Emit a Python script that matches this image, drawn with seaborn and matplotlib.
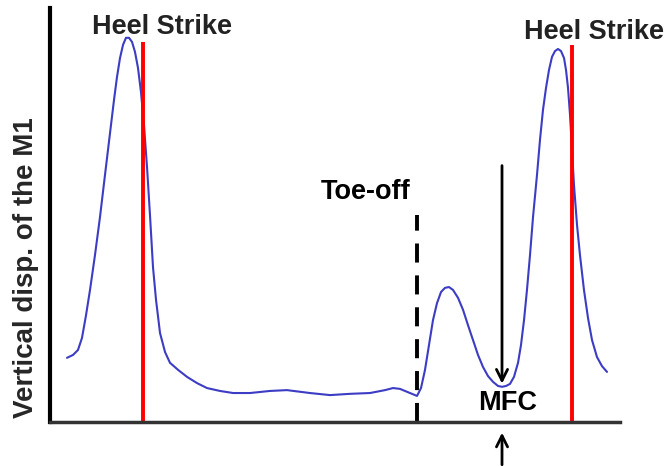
import matplotlib
matplotlib.use("Agg")
import matplotlib.pyplot as plt
import seaborn as sns
import pandas as pd

# Gait cycle (arbitrary units) and vertical displacement of M1 marker
gait = [2.98, 4.04, 4.91, 5.61, 6.32, 7.02, 7.89, 8.77, 9.65, 10.53, 11.23, 11.75,
        12.28, 12.81, 13.33, 13.86, 14.39, 14.91, 15.44, 15.96, 16.49, 17.02, 17.54,
        18.07, 18.60, 19.30, 20.18, 21.05, 22.46, 24.04, 25.79, 27.54, 29.82, 32.11,
        35.09, 38.6, 41.58, 45.6, 49.12, 52.6, 56.14, 58.77, 60.18, 61.4, 62.8,
        64.39, 65.09, 65.79, 66.49, 67.19, 67.89, 68.6, 69.3, 70.0, 70.7, 71.58,
        72.46, 73.33, 74.21, 75.09, 75.96, 76.84, 77.72, 78.6, 79.3, 80.0, 80.7,
        81.4, 82.11, 82.63, 83.16, 83.68, 84.21, 84.74, 85.44, 85.96, 86.49, 87.02,
        87.54, 88.07, 88.6, 89.12, 89.65, 90.18, 90.53, 90.88, 91.23, 91.58, 91.93,
        92.46, 92.98, 93.68, 94.39, 95.09, 95.96, 96.84, 97.72]
disp = [15.5, 16.2, 17.4, 20.3, 25.8, 31.9, 40.3, 49.5, 59.7, 69.8, 77.8, 83.3,
        87.9, 91.1, 92.8, 92.8, 91.8, 89.4, 85.5, 79.7, 71.7, 61.6, 50.0,
        37.4, 29.5, 21.5, 16.9, 14.3, 12.6, 10.9, 9.4, 8.2, 7.5, 7.0,
        7.0, 7.5, 7.7, 7.0, 6.5, 6.8, 7.0, 7.7, 8.2, 8.0, 7.2,
        6.3, 8.2, 12.6, 18.6, 24.6, 28.7, 31.4, 32.4, 32.6, 31.9, 30.0,
        27.1, 23.4, 19.8, 16.2, 13.3, 11.1, 9.7, 8.7, 8.5, 8.7, 9.2,
        10.9, 14.3, 18.6, 24.6, 31.9, 40.3, 49.5, 59.7, 68.1, 75.4, 80.7,
        85.0, 88.2, 89.6, 90.1, 89.6, 87.9, 85.0, 80.7, 74.2, 65.7, 57.2,
        47.6, 40.3, 31.9, 25.1, 19.8, 15.7, 13.5, 12.1]

heel_strikes = [16.3, 91.6]
heel_tops = [91.8, 91.1]
toe_off = 64.4
mfc_x = 79.3

df = pd.DataFrame({"gait": gait, "disp": disp})

sns.set_style("white")
plt.rcParams['font.family'] = ['Liberation Sans', 'DejaVu Sans']

fig = plt.figure(figsize=(6.72, 4.66), dpi=100)
ax = fig.add_axes([50/672, 44/466, 570/672, 414/466])

sns.lineplot(data=df, x="gait", y="disp", ax=ax, color="#3c3cc4", lw=1.5)

for hx, ht in zip(heel_strikes, heel_tops):
    ax.plot([hx, hx], [0, ht], color="#ff0000", lw=2.8, solid_capstyle="butt")
ax.plot([toe_off, toe_off], [0, 50.0], color="black", lw=2.8, ls=(0, (4.9, 3.3)))

fs = 19.5
ax.text(19.6, 95.4, "Heel Strike", ha="center", va="center", fontsize=fs, fontweight="bold", color="#222222")
ax.text(95.4, 94.2, "Heel Strike", ha="center", va="center", fontsize=fs, fontweight="bold", color="#222222")
ax.text(55.4, 55.6, "Toe-off", ha="center", va="center", fontsize=fs, fontweight="bold", color="black")
ax.text(80.2, 4.6, "MFC", ha="center", va="center", fontsize=fs, fontweight="bold", color="black")

ax.annotate("", xy=(mfc_x, 8.6), xytext=(mfc_x, 62.6),
            arrowprops=dict(arrowstyle="->,head_length=0.8,head_width=0.4", lw=2, color="black"))
ax.annotate("", xy=(mfc_x, -1.9), xytext=(mfc_x, -11.0),
            arrowprops=dict(arrowstyle="->,head_length=0.8,head_width=0.4", lw=2, color="black"),
            annotation_clip=False)

ax.set_xlim(0, 100)
ax.set_ylim(0, 100)
ax.set_xticks([])
ax.set_yticks([])
ax.set_xlabel("")
ax.set_ylabel("Vertical disp. of the M1", fontsize=fs + 0.5, fontweight="bold")
ax.yaxis.set_label_coords(-0.02, 0.372)
sns.despine(ax=ax)
ax.spines["left"].set_linewidth(3)
ax.spines["left"].set_color("black")
ax.spines["bottom"].set_linewidth(2.5)
ax.spines["bottom"].set_color("#333333")

fig.savefig("out.png", dpi=100)
